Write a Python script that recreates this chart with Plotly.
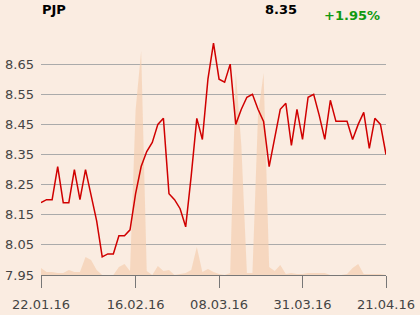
import plotly.graph_objects as go

symbol = "PJP"
prices = [8.19, 8.20, 8.20, 8.31, 8.19, 8.19, 8.30, 8.20, 8.30, 8.22,
          8.13, 8.01, 8.02, 8.02, 8.08, 8.08, 8.10, 8.22, 8.31, 8.36,
          8.39, 8.45, 8.47, 8.22, 8.20, 8.17, 8.11, 8.28, 8.47, 8.40,
          8.60, 8.72, 8.60, 8.59, 8.65, 8.45, 8.50, 8.54, 8.55, 8.50,
          8.46, 8.31, 8.40, 8.50, 8.52, 8.38, 8.50, 8.40, 8.54, 8.55,
          8.48, 8.40, 8.53, 8.46, 8.46, 8.46, 8.40, 8.45, 8.49, 8.37,
          8.47, 8.45, 8.35]
volumes = [7, 3, 3, 2, 2, 5, 3, 3, 18, 15,
           5, 0, 0, 0, 8, 11, 4, 165, 224, 4,
           0, 9, 4, 5, 0, 1, 2, 5, 28, 3,
           6, 3, 1, 0, 2, 203, 130, 2, 2, 160,
           202, 8, 4, 10, 1, 2, 1, 1, 2, 2,
           2, 2, 0, 0, 0, 1, 7, 11, 1, 1,
           1, 1, 0]
tick_index = [0, 17, 32, 47, 62]
tick_labels = ["22.01.16", "16.02.16", "08.03.16", "31.03.16", "21.04.16"]
price_ticks = [7.95, 8.05, 8.15, 8.25, 8.35, 8.45, 8.55, 8.65]

x = list(range(len(prices)))
last = prices[-1]
change = (prices[-1] / prices[0] - 1) * 100

BG = "rgb(250,236,225)"
FONT = "DejaVu Sans"

fig = go.Figure()
fig.add_trace(go.Scatter(
    x=x, y=volumes, mode="lines", line=dict(width=0),
    fill="tozeroy", fillcolor="rgba(244,205,172,0.65)",
    yaxis="y", hoverinfo="skip", showlegend=False))
fig.add_trace(go.Scatter(
    x=x, y=prices, mode="lines", line=dict(color="rgb(208,0,0)", width=1.5),
    yaxis="y2", showlegend=False))

fig.update_layout(
    width=420, height=315,
    margin=dict(l=41, r=34, t=34, b=40, autoexpand=False),
    paper_bgcolor=BG, plot_bgcolor=BG,
    font=dict(family=FONT, size=13, color="#444"),
    xaxis=dict(range=[0, len(prices) - 1], tickvals=tick_index, ticktext=tick_labels,
               showgrid=False, zeroline=False, showline=True, linecolor="#777",
               linewidth=1, ticks="outside", ticklen=12, tickcolor="#777",
               ticklabelstandoff=5, automargin=False,
               tickfont=dict(size=13, color="#444")),
    yaxis=dict(range=[0, 241], visible=False, showgrid=False, automargin=False),
    yaxis2=dict(range=[7.95, 8.75], overlaying="y", side="left", tickvals=price_ticks,
                tickformat=".2f", showgrid=True, gridcolor="#aaa", gridwidth=1,
                zeroline=False, showline=False, ticks="", ticklabelstandoff=6,
                automargin=False,
                tickfont=dict(size=13, color="#444")),
    annotations=[
        dict(text="<b>%s</b>" % symbol, xref="paper", yref="paper", x=0.0386, y=1.1017,
             xanchor="center", yanchor="middle", showarrow=False,
             font=dict(size=13, color="#000", family=FONT)),
        dict(text="<b>%.2f</b>" % last, xref="paper", yref="paper", x=0.6957, y=1.1037,
             xanchor="center", yanchor="middle", showarrow=False,
             font=dict(size=13, color="#000", family=FONT)),
        dict(text="<b>%+.2f%%</b>" % change, xref="paper", yref="paper", x=0.9006, y=1.0747,
             xanchor="center", yanchor="middle", showarrow=False,
             font=dict(size=13, color="rgb(17,153,17)", family=FONT)),
    ],
)
fig.write_html("out.html")
